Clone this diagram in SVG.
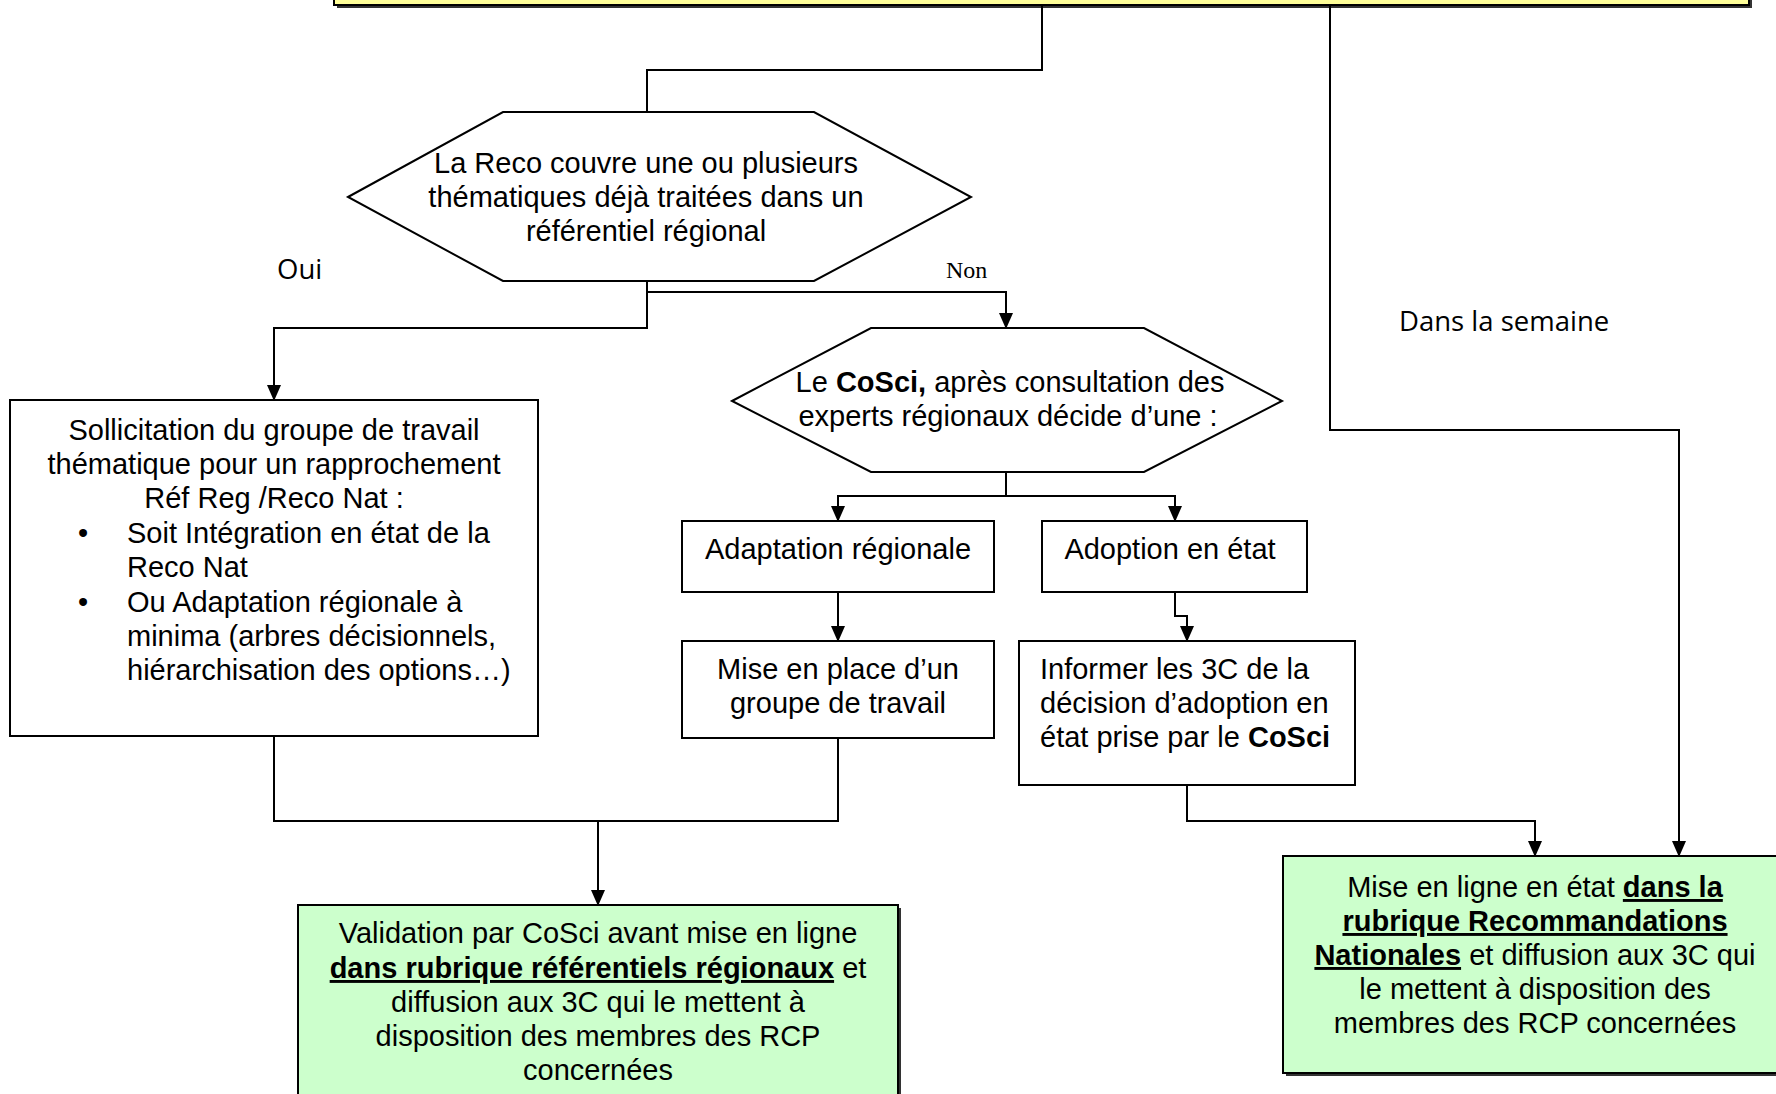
<svg xmlns="http://www.w3.org/2000/svg" width="1776" height="1094" viewBox="0 0 1776 1094">
<defs>
<marker id="arr" markerWidth="16" markerHeight="16" refX="15" refY="8" orient="auto" markerUnits="userSpaceOnUse">
<path d="M0,1 L16,8 L0,15 z" fill="#000"/>
</marker>
<style>
.t{font-family:"Liberation Sans",Arial,sans-serif;font-size:29px;fill:#000}
.b{font-weight:bold;text-decoration:underline}
.bo{font-weight:bold}
.box{fill:#fff;stroke:#000;stroke-width:2}
.green{fill:#CCFFCC;stroke:#000;stroke-width:2}
.c{fill:none;stroke:#000;stroke-width:2}
.ca{fill:none;stroke:#000;stroke-width:2;marker-end:url(#arr)}
.lbl{font-family:"Open Sans",sans-serif;font-size:27.5px;fill:#000}
</style>
</defs>
<rect width="1776" height="1094" fill="#fff"/>

<g id="top">
<rect x="337" y="-40" width="1415" height="48" fill="#333"/>
<rect x="334" y="-43" width="1415" height="48" fill="#FFFF99" stroke="#000" stroke-width="2"/>
</g>

<g id="connectors">
<polyline class="c" points="1042,5 1042,70 647,70 647,112"/>
<polyline class="ca" points="1330,5 1330,430 1679,430 1679,856"/>
<polyline class="ca" points="647,281 647,328 274,328 274,400"/>
<polyline class="ca" points="647,292 1006,292 1006,328"/>
<polyline class="c" points="1006,472 1006,496"/>
<polyline class="ca" points="1006,496 838,496 838,521"/>
<polyline class="ca" points="1006,496 1175,496 1175,521"/>
<polyline class="ca" points="838,592 838,641"/>
<polyline class="ca" points="1175,592 1175,616 1187,616 1187,641"/>
<polyline class="c" points="274,736 274,821 838,821 838,738"/>
<polyline class="ca" points="598,821 598,905"/>
<polyline class="ca" points="1187,785 1187,821 1535,821 1535,856"/>
</g>

<g id="labels">
<text class="lbl" x="277" y="279">Oui</text>
<text x="946" y="278" style="font-family:'Liberation Serif',serif;font-size:24px">Non</text>
<text class="lbl" x="1399" y="331">Dans la semaine</text>
</g>

<g id="decision1">
<polygon class="box" points="348,197 503,112 814,112 971,197 814,281 503,281"/>
<text class="t" text-anchor="middle"><tspan x="646" y="173">La Reco couvre une ou plusieurs</tspan><tspan x="646" y="207">thématiques déjà traitées dans un</tspan><tspan x="646" y="241">référentiel régional</tspan></text>
</g>

<g id="sollicitation">
<rect class="box" x="10" y="400" width="528" height="336"/>
<text class="t" text-anchor="middle"><tspan x="274" y="440">Sollicitation du groupe de travail</tspan><tspan x="274" y="474">thématique pour un rapprochement</tspan><tspan x="274" y="508">Réf Reg /Reco Nat :</tspan></text>
<text class="t"><tspan x="78" y="543">•</tspan><tspan x="78" y="612">•</tspan></text>
<text class="t"><tspan x="127" y="543">Soit Intégration en état de la</tspan><tspan x="127" y="577">Reco Nat</tspan><tspan x="127" y="612">Ou Adaptation régionale à</tspan><tspan x="127" y="646">minima (arbres décisionnels,</tspan><tspan x="127" y="680">hiérarchisation des options…)</tspan></text>
</g>

<g id="decision2">
<polygon class="box" points="732,401 871,328 1144,328 1282,401 1144,472 871,472"/>
<text class="t" text-anchor="middle"><tspan x="1010" y="392">Le <tspan class="bo">CoSci,</tspan> après consultation des</tspan><tspan x="1008" y="426">experts régionaux décide d’une :</tspan></text>
</g>

<g id="adaptation">
<rect class="box" x="682" y="521" width="312" height="71"/>
<text class="t" text-anchor="middle" x="838" y="559">Adaptation régionale</text>
</g>

<g id="adoption">
<rect class="box" x="1042" y="521" width="265" height="71"/>
<text class="t" text-anchor="middle" x="1170" y="559">Adoption en état</text>
</g>

<g id="groupe">
<rect class="box" x="682" y="641" width="312" height="97"/>
<text class="t" text-anchor="middle"><tspan x="838" y="679">Mise en place d’un</tspan><tspan x="838" y="713">groupe de travail</tspan></text>
</g>

<g id="informer">
<rect class="box" x="1019" y="641" width="336" height="144"/>
<text class="t"><tspan x="1040" y="679">Informer les 3C de la</tspan><tspan x="1040" y="713">décision d’adoption en</tspan><tspan x="1040" y="747">état prise par le <tspan class="bo">CoSci</tspan></tspan></text>
</g>

<g id="validation">
<rect x="301" y="908" width="600" height="200" fill="#333"/>
<rect class="green" x="298" y="905" width="600" height="200"/>
<text class="t" text-anchor="middle"><tspan x="598" y="943">Validation par CoSci avant mise en ligne</tspan><tspan x="598" y="978"><tspan class="b">dans rubrique référentiels régionaux</tspan> et</tspan><tspan x="598" y="1012">diffusion aux 3C qui le mettent à</tspan><tspan x="598" y="1046">disposition des membres des RCP</tspan><tspan x="598" y="1080">concernées</tspan></text>
</g>

<g id="miseenligne">
<rect x="1286" y="859" width="500" height="217" fill="#333"/>
<rect class="green" x="1283" y="856" width="500" height="217"/>
<text class="t" text-anchor="middle"><tspan x="1535" y="897">Mise en ligne en état <tspan class="b">dans la</tspan></tspan><tspan x="1535" y="931" class="b">rubrique Recommandations</tspan><tspan x="1535" y="965"><tspan class="b">Nationales</tspan> et diffusion aux 3C qui</tspan><tspan x="1535" y="999">le mettent à disposition des</tspan><tspan x="1535" y="1033">membres des RCP concernées</tspan></text>
</g>
</svg>
